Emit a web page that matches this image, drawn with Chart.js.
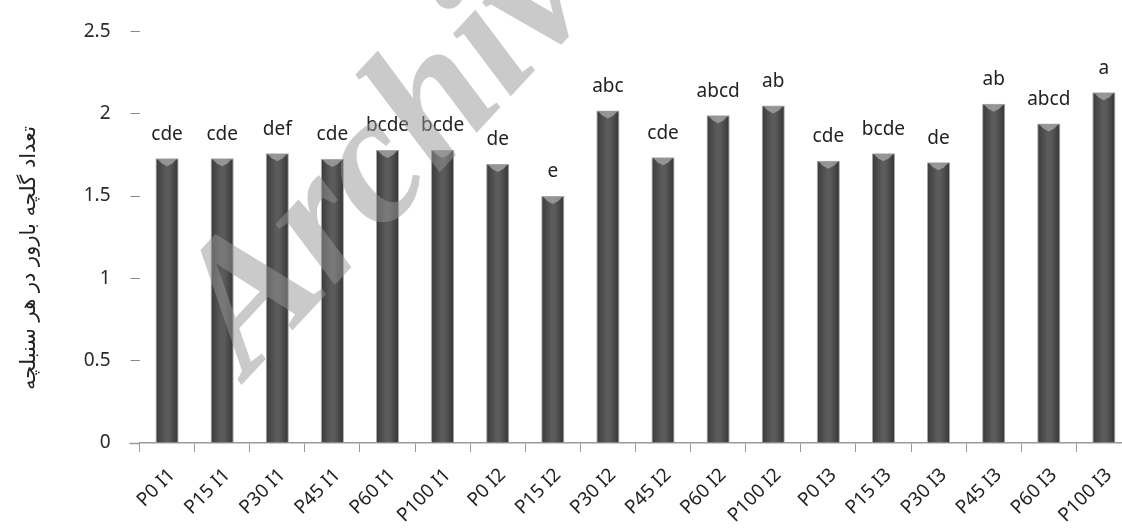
<!DOCTYPE html>
<html>
<head>
<meta charset="utf-8">
<script src="https://cdn.jsdelivr.net/npm/chart.js@4/dist/chart.umd.min.js"></script>
<style>
  html, body { margin: 0; padding: 0; background: #fff; overflow: hidden; }
  .wrap { position: relative; width: 1132px; height: 529px; }
</style>
</head>
<body>
<div class="wrap"><canvas id="chart"></canvas></div>
<script>
const treatments = [
  "P0 I1", "P15 I1", "P30 I1", "P45 I1", "P60 I1", "P100 I1",
  "P0 I2", "P15 I2", "P30 I2", "P45 I2", "P60 I2", "P100 I2",
  "P0 I3", "P15 I3", "P30 I3", "P45 I3", "P60 I3", "P100 I3"
];
const floretsPerSpikelet = [
  1.73, 1.73, 1.76, 1.725, 1.78, 1.78,
  1.695, 1.50, 2.02, 1.735, 1.99, 2.05,
  1.715, 1.76, 1.705, 2.06, 1.94, 2.13
];
const groupLetters = [
  "cde", "cde", "def", "cde", "bcde", "bcde",
  "de", "e", "abc", "cde", "abcd", "ab",
  "cde", "bcde", "de", "ab", "abcd", "a"
];
const yTicks = [0, 0.5, 1, 1.5, 2, 2.5];
const yTitle = "تعداد گلچه بارور در هر سنبلچه";

const BAR_PCT = 0.42;

// cylinder-like shading across each bar
function barFill(ctx) {
  const chart = ctx.chart;
  const x = chart.scales.x;
  if (!x || ctx.dataIndex === undefined) return "#4a4a4a";
  const cx = x.getPixelForValue(ctx.dataIndex);
  const half = (x.width / treatments.length) * BAR_PCT / 2;
  if (!isFinite(cx) || !isFinite(half) || half <= 0) return "#4a4a4a";
  const g = chart.ctx.createLinearGradient(cx - half, 0, cx + half, 0);
  g.addColorStop(0, "#3a3a3a");
  g.addColorStop(0.45, "#5c5c5c");
  g.addColorStop(0.6, "#5a5a5a");
  g.addColorStop(1, "#343434");
  return g;
}

const extras = {
  id: "extras",
  afterDatasetsDraw(chart) {
    const c = chart.ctx;
    const meta = chart.getDatasetMeta(0);
    const area = chart.chartArea;
    c.save();
    // axis line runs a little past the plot area on the left
    c.strokeStyle = "#9a9a9a";
    c.lineWidth = 1.5;
    c.beginPath();
    c.moveTo(area.left - 10, area.bottom + 0.5);
    c.lineTo(area.left, area.bottom + 0.5);
    c.stroke();
    meta.data.forEach((bar, i) => {
      const half = bar.width / 2;
      // light bevel at the top of each bar
      c.fillStyle = "rgba(170,170,170,0.75)";
      c.beginPath();
      c.moveTo(bar.x - half + 2, bar.y + 1);
      c.lineTo(bar.x + half - 2, bar.y + 1);
      c.lineTo(bar.x + half - 6, bar.y + 5);
      c.lineTo(bar.x, bar.y + 8);
      c.lineTo(bar.x - half + 6, bar.y + 5);
      c.closePath();
      c.fill();
      // significance letters
      c.fillStyle = "#222";
      c.font = "19px 'Noto Sans', sans-serif";
      c.textAlign = "center";
      c.textBaseline = "middle";
      c.fillText(groupLetters[i], bar.x, bar.y - 24);
    });
    c.restore();
  },
  afterDraw(chart) {
    const c = chart.ctx;
    c.save();
    // y axis title
    c.translate(30, 258);
    c.rotate(-Math.PI / 2);
    c.fillStyle = "#222";
    c.font = "21px 'DejaVu Sans', sans-serif";
    c.textAlign = "center";
    c.textBaseline = "middle";
    c.fillText(yTitle, 0, 0);
    c.restore();

    c.save();
    c.translate(248, 378);
    c.rotate(-47 * Math.PI / 180);
    c.fillStyle = "rgba(150,150,150,0.5)";
    c.font = "italic bold 185px 'Liberation Serif', serif";
    c.textBaseline = "alphabetic";
    c.fillText("Archive of SID", 0, 0);
    c.restore();
  }
};

new Chart(document.getElementById("chart"), {
  type: "bar",
  data: {
    labels: treatments,
    datasets: [{
      data: floretsPerSpikelet,
      backgroundColor: barFill,
      borderColor: "#a8a8a8",
      borderWidth: 1,
      barPercentage: BAR_PCT,
      categoryPercentage: 1
    }]
  },
  options: {
    responsive: true,
    maintainAspectRatio: false,
    animation: false,
    layout: { padding: { top: 23, left: 0, right: 0, bottom: 0 } },
    plugins: {
      legend: { display: false },
      tooltip: { enabled: false }
    },
    scales: {
      y: {
        min: 0,
        max: 2.5,
        afterBuildTicks(scale) {
          scale.ticks = yTicks.map(v => ({ value: v }));
        },
        afterFit(scale) { scale.width = 139.5; },
        border: { display: false },
        grid: { drawOnChartArea: false, drawTicks: true, tickLength: 9, color: "#8a8a8a" },
        ticks: {
          padding: 20,
          color: "#2a2a2a",
          font: { family: "'Noto Sans', sans-serif", size: 19 },
          callback: v => String(v)
        }
      },
      x: {
        afterFit(scale) { scale.height = 86; },
        border: { display: true, color: "#9a9a9a", width: 1.5 },
        grid: { offset: true, drawOnChartArea: false, drawTicks: true, tickLength: 9, color: "#9a9a9a" },
        ticks: {
          maxRotation: 45,
          minRotation: 45,
          padding: 12,
          labelOffset: 5,
          color: "#222",
          font: { family: "'Noto Sans', sans-serif", size: 19 }
        }
      }
    }
  },
  plugins: [extras]
});
</script>
</body>
</html>
